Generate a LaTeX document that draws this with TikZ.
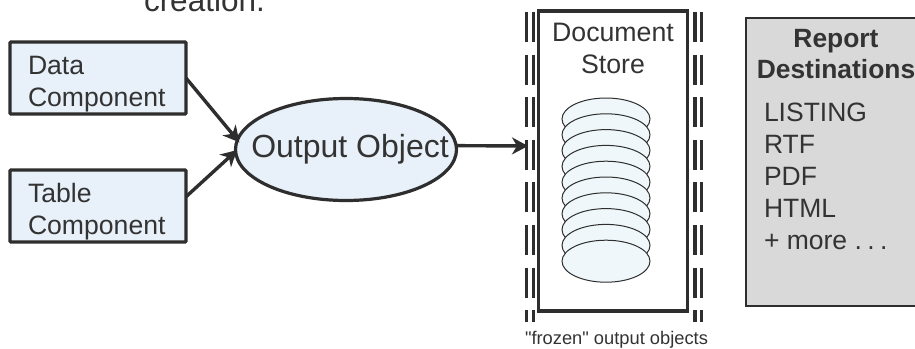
\documentclass[tikz,border=0pt]{standalone}
\usepackage{fontspec}
\setmainfont{Liberation Sans}
\newfontfamily\plainfont{Liberation Sans}
\usetikzlibrary{arrows.meta,shapes.geometric}
\definecolor{ink}{HTML}{2E2E2E}
\definecolor{txt}{HTML}{333333}
\definecolor{compfill}{HTML}{E8F1F9}
\definecolor{diskfill}{HTML}{F0F7FA}
\definecolor{destfill}{HTML}{D9D9D9}
\newcommand{\firstline}{\hspace*{18pt}\rule{0pt}{30pt}}
\tikzset{
  comp/.style={draw=ink,line width=3.2pt,fill=compfill,rounded corners=1pt,minimum height=72pt,text width=176pt,inner sep=0pt,outer sep=0pt,align=left,text=txt,font=\fontsize{26.6}{32}\selectfont},
  obj/.style={ellipse,draw=ink,line width=3.2pt,fill=compfill,minimum width=221pt,minimum height=102pt,inner sep=0pt,outer sep=0pt,text=txt,font=\fontsize{32}{36}\selectfont},
  storebox/.style={draw=ink,line width=3.4pt,minimum width=149pt,minimum height=300pt,inner sep=0pt,outer sep=0pt},
  disk/.style={ellipse,draw=ink,line width=1pt,fill=diskfill,minimum width=88pt,minimum height=42pt,inner sep=0pt,outer sep=0pt},
  rail/.style={ink,line width=3.3pt,dash pattern=on 30pt off 12.6pt},
  link/.style={draw=ink,line width=3.4pt,-{Stealth[length=16pt,width=17pt,inset=5pt]}},
  lab/.style={inner sep=0pt,outer sep=0pt,text=txt,align=center},
  destbox/.style={draw=ink,line width=2.2pt,fill=destfill,minimum width=200pt,minimum height=288pt,inner sep=0pt,outer sep=0pt},
}
\begin{document}
\begin{tikzpicture}[x=1pt,y=-1pt]
\useasboundingbox (0,0) rectangle (915,348);
\node[lab,font=\fontsize{31.5}{36}\selectfont,anchor=base west] (cap) at (144,11) {creation.};

\node[comp] (data) at (98,78) {\firstline Data\\\hspace*{18pt}Component};
\node[comp] (table) at (98,206) {\firstline Table\\\hspace*{18pt}Component};
\node[obj] (oo) at (346,149.5) {\makebox[0pt]{\hspace*{8pt}Output Object}};

\node[storebox] (store) at (613,161) {};
\coordinate (la1) at (526.7,12); \coordinate (la2) at (526.7,322);
\coordinate (lb1) at (533.4,12); \coordinate (lb2) at (533.4,322);
\coordinate (ra1) at (695,12); \coordinate (ra2) at (695,322);
\coordinate (rb1) at (701.7,12); \coordinate (rb2) at (701.7,322);
\draw[rail] (la1) -- (la2);
\draw[rail] (lb1) -- (lb2);
\draw[rail] (ra1) -- (ra2);
\draw[rail] (rb1) -- (rb2);

\node[lab,font=\fontsize{26.7}{32}\selectfont,anchor=north] (storelab) at (613,23) {Document\\Store};
\foreach \i in {0,...,9} {
  \node[disk] (d\i) at (606,{119+15.8*\i}) {};
}
\node[lab,font=\plainfont\fontsize{18.3}{22}\selectfont,anchor=base] (frozen) at (616.5,344) {"frozen" output objects};

\node[destbox,anchor=north west] (dest) at (746,18) {};
\node[lab,font=\bfseries\fontsize{26.4}{31}\selectfont,anchor=north] (desthead) at (836,29) {Report\\Destinations};
\node[lab,align=left,anchor=north west,font=\fontsize{26.5}{32}\selectfont] (destlist) at (764,103) {LISTING\\RTF\\PDF\\HTML\\+ more .\hspace{5.4pt}.\hspace{5.4pt}.};

\draw[link,shorten >=-3pt] (data.east) -- (oo.175);
\draw[link,shorten >=-2pt] (table.6) -- (oo.181);
\draw[link] (oo.2) -- (528,146);
\end{tikzpicture}
\end{document}
